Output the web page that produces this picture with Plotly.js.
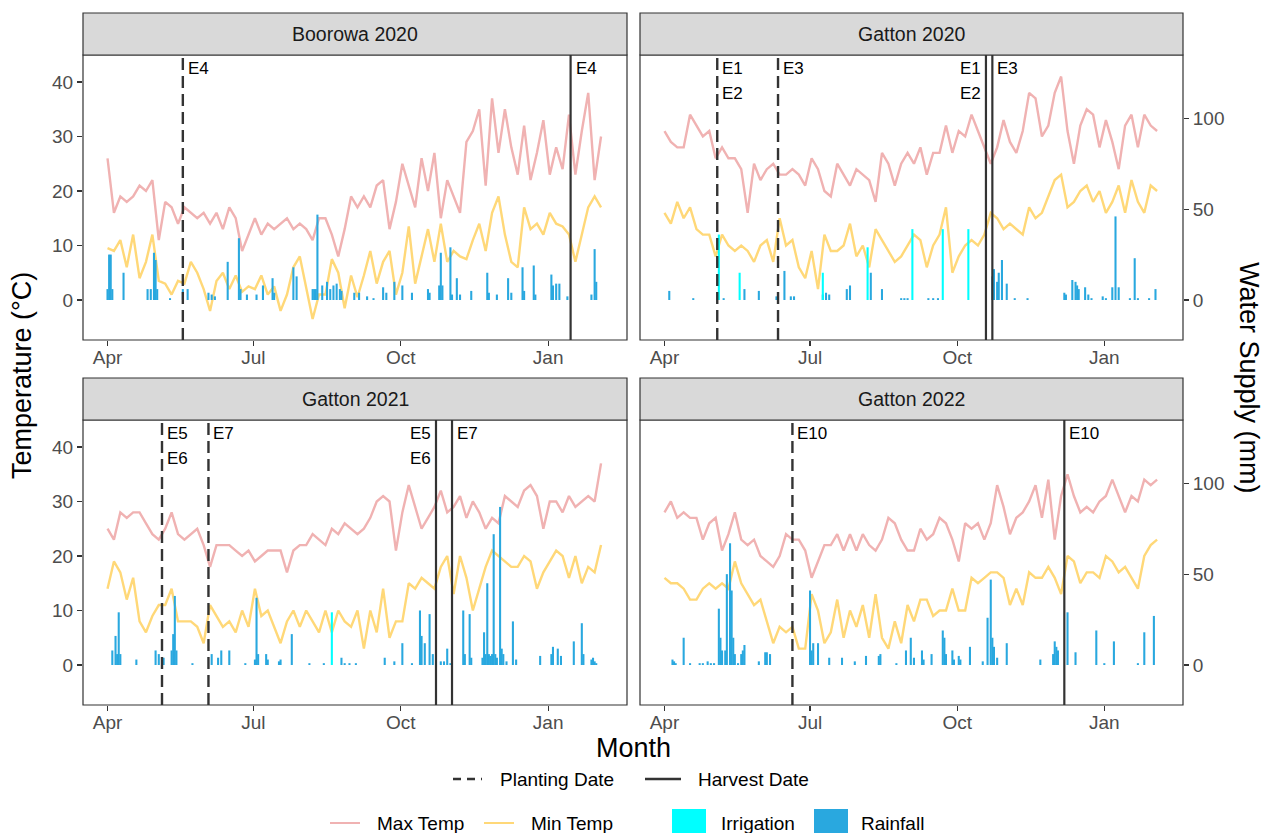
<!DOCTYPE html>
<html><head><meta charset="utf-8">
<script src="https://cdn.plot.ly/plotly-3.0.1.min.js"></script>
<style>html,body{margin:0;padding:0;background:#fff;}#chart{width:1266px;height:833px;}</style>
</head><body><div id="chart"></div>
<script>
// ---------------- DATA ----------------
const sampleStepDays = 4; // temperature values read every 4 days from 1 April
const panelNames = ['Boorowa 2020', 'Gatton 2020', 'Gatton 2021', 'Gatton 2022'];
const panelYears = [2020, 2020, 2021, 2022];
const monthTickLabels = ['Apr', 'Jul', 'Oct', 'Jan'];
const tempTicks = [0, 10, 20, 30, 40];
const waterTicks = [0, 50, 100];

const boorowa2020Max = [26,16,19,18,19,21,20,22,11,18,17,14,17,16,15,16,14,16,13,17,15,9,12,15,12,14,13,14,15,13,14,13,11,15,15,12,8,13,19,17,19,17,21,22,13,18,25,21,17,26,20,27,15,22,19,16,29,31,35,21,37,27,35,28,23,32,22,27,33,23,28,24,34,23,31,38,22,30];
const boorowa2020Min = [9.5,9,11,6,12,4,7,12,3.5,3,1,3.5,3,7,5,2,-2,3.5,5,2,4.5,1.5,2.5,2,4.5,1,2.5,-2,1,6,8,2,-3.5,1,1,7.5,5,-1.5,4.5,0.5,4.5,9,3,7,9,1,5,13.5,3,8,13,7,14,7,9,8,7.5,11,14,9,16,19,12,7,6,17,13,14,12,16,14,13.5,12,7,12,17,19,17];
const boorowa2020RainDays = [0,1,2,3,10,25,27,29,30,31,39,47,50,63,65,67,75,82,83,87,93,97,103,104,116,118,128,129,130,131,134,137,139,141,143,145,146,154,157,162,166,172,174,179,184,190,200,201,207,208,209,214,215,218,220,227,237,238,243,250,252,259,260,266,267,277,278,280,282,287,302,304,305];
const boorowa2020RainMm = [6,25,25,6,15,6,6,26,22,6,1,6,6,4,3,2,21,34,6,3,3,8,12,4,18,13,6,6,6,47,8,10,6,8,9,6,5,4,4,2,1,7,4,10,8,4,6,4,8,26,8,29,3,12,3,5,15,4,3,12,4,18,5,19,3,14,8,9,9,2,3,28,10];
const boorowa2020IrrDays = [];
const boorowa2020IrrMm = [];
const boorowa2020PlantDates = ['2020-05-18'];
const boorowa2020PlantLabels = [['E4']];
const boorowa2020HarvestDates = ['2021-01-15'];
const boorowa2020HarvestLabels = [['E4']];

const gatton2020Max = [31,29,28,28,34,32,30,31,26,28,26,26,24,16,25,22,24,25,23,23,24,23,21,26,24,20,19,25,23,21,24,23,22,18,27,25,21,25,27,25,28,23,27,27,32,27,31,30,34,31,28,25,28,33,29,27,31,38,37,30,32,38,41,31,25,32,35,34,28,33,29,24,32,34,28,34,32,31];
const gatton2020Min = [16,14,18,15,17,13,12,12,8,12,10,9,10,9,7,10,11,7,15,10,11,6,4,9,2,12,9,9,10,14,8,10,6,13,11,9,7,8,10,12,11,6,10,12,17,5,8,10,11,10,12,16,15,13,14,13,12,17,15,16,19,22,23,17,18,20,21,18,20,16,18,21,16,22,18,16,21,20];
const gatton2020RainDays = [3,18,37,50,59,70,75,79,81,99,101,103,114,116,129,136,148,150,152,165,168,171,205,206,208,209,211,214,219,227,250,251,255,257,258,259,263,265,267,274,276,280,282,284,291,294,296,303,307];
const gatton2020RainMm = [5,1,1,6,5,2,16,2,2,3,4,3,6,8,15,6,1,1,1,1,1,1,13,17,10,15,22,9,1,1,4,3,11,10,8,6,7,3,1,2,1,7,46,7,1,23,1,1,6];
const gatton2020IrrDays = [34,47,99,127,155,174,190];
const gatton2020IrrMm = [36,15,15,29,39,39,39];
const gatton2020PlantDates = ['2020-05-04', '2020-06-11'];
const gatton2020PlantLabels = [['E1','E2'], ['E3']];
const gatton2020HarvestDates = ['2020-10-19', '2020-10-23'];
const gatton2020HarvestLabels = [['E1','E2'], ['E3']];

const gatton2021Max = [25,23,28,27,28,28,26,24,23,25,28,24,23,24,25,22,18,22,22,22,21,20,21,19,20,21,21,21,17,21,22,22,24,23,22,25,24,26,25,24,25,27,30,31,30,21,28,33,29,25,27,29,32,28,29,31,27,30,28,25,27,26,31,30,29,32,33,31,25,30,30,28,31,29,30,31,30,37];
const gatton2021Min = [14,19,17,12,16,8,6,9,11,11,14,8,8,8,7,4,11,9,7,8,6,10,7,14,9,10,7,4,8,10,7,10,8,6,10,6,10,8,7,10,3,10,6,14,5,8,8,15,14,16,15,14,18,20,13,20,16,10,14,18,21,20,19,18,18,20,19,14,17,19,21,20,16,20,15,18,17,22];
const gatton2021RainDays = [3,5,6,7,8,18,30,32,35,40,41,42,43,53,65,69,71,76,86,92,93,94,99,100,107,108,115,126,135,146,148,151,155,173,179,184,190,195,196,198,201,203,208,210,212,214,222,223,226,227,234,235,236,237,238,239,240,241,242,243,245,246,247,249,253,255,270,277,278,281,283,291,296,297,302,303,304,305];
const gatton2021RainMm = [8,16,6,29,6,3,8,6,4,8,17,38,8,1,6,4,8,8,1,3,37,6,6,3,2,3,17,1,1,4,1,1,1,4,2,12,1,30,16,12,28,6,2,2,9,1,30,6,28,4,4,18,6,45,6,5,6,72,6,4,87,9,6,2,24,3,5,6,10,9,5,13,23,6,3,4,2,1];
const gatton2021IrrDays = [140];
const gatton2021IrrMm = [29];
const gatton2021PlantDates = ['2021-05-05', '2021-06-03'];
const gatton2021PlantLabels = [['E5','E6'], ['E7']];
const gatton2021HarvestDates = ['2021-10-23', '2021-11-02'];
const gatton2021HarvestLabels = [['E5','E6'], ['E7']];

const gatton2022Max = [28,30,27,28,27,27,23,26,27,21,24,28,23,22,23,20,19,18,20,24,23,23,21,16,19,22,22,24,21,24,21,24,22,21,23,27,26,23,21,21,25,23,24,27,26,23,19,26,25,26,23,26,33,29,24,27,28,30,33,27,34,23,31,35,31,28,29,28,30,31,34,31,28,31,30,34,33,34];
const gatton2022Min = [16,15,15,14,12,12,14,15,14,15,14,19,15,13,11,12,8,4,7,6,7,3,3,13,10,4,6,12,5,10,7,11,5,13,5,3,8,4,11,8,12,12,9,10,10,14,10,10,16,15,16,17,17,16,11,14,11,17,16,16,18,16,13,20,19,15,17,17,16,20,19,17,18,16,14,20,22,23];
const gatton2022RainDays = [5,6,7,12,16,22,24,27,29,31,34,35,36,38,39,41,42,43,44,46,48,49,50,59,63,64,66,91,92,93,96,103,111,119,126,134,135,145,151,154,156,161,162,167,174,175,176,180,181,184,185,191,199,202,204,205,206,208,214,235,243,244,245,246,252,257,270,275,281,296,300,306];
const gatton2022RainMm = [3,2,1,15,1,1,1,2,1,1,31,15,8,8,50,67,41,15,6,1,6,8,11,2,7,7,6,41,8,12,12,4,4,2,5,5,6,1,8,15,4,8,3,6,19,15,6,8,3,5,3,10,2,26,47,15,10,4,12,3,6,13,10,8,29,7,19,1,13,1,18,27];
const gatton2022IrrDays = [];
const gatton2022IrrMm = [];
const gatton2022PlantDates = ['2022-06-20'];
const gatton2022PlantLabels = [['E10']];
const gatton2022HarvestDates = ['2022-12-07'];
const gatton2022HarvestLabels = [['E10']];

// ---------------- BUILD ----------------
const W = 1266, H = 833, DAY = 86400000;
const FONT = 'Liberation Sans, Arial, Helvetica, sans-serif';
const COL = {max: '#F0B2B2', min: '#FFD878', rain: '#29A8DF', irr: '#00FFFF', ink: '#333333'};
const TEMP_RANGE = [-7.34, 44.95];
const WATER_RANGE = [TEMP_RANGE[0] * 3, TEMP_RANGE[1] * 3];
const TICKFONT = {size: 19, color: '#4d4d4d', family: FONT};

const panels = [
  {max: boorowa2020Max, min: boorowa2020Min, rd: boorowa2020RainDays, rv: boorowa2020RainMm, id: boorowa2020IrrDays, iv: boorowa2020IrrMm, pd: boorowa2020PlantDates, pl: boorowa2020PlantLabels, hd: boorowa2020HarvestDates, hl: boorowa2020HarvestLabels},
  {max: gatton2020Max, min: gatton2020Min, rd: gatton2020RainDays, rv: gatton2020RainMm, id: gatton2020IrrDays, iv: gatton2020IrrMm, pd: gatton2020PlantDates, pl: gatton2020PlantLabels, hd: gatton2020HarvestDates, hl: gatton2020HarvestLabels},
  {max: gatton2021Max, min: gatton2021Min, rd: gatton2021RainDays, rv: gatton2021RainMm, id: gatton2021IrrDays, iv: gatton2021IrrMm, pd: gatton2021PlantDates, pl: gatton2021PlantLabels, hd: gatton2021HarvestDates, hl: gatton2021HarvestLabels},
  {max: gatton2022Max, min: gatton2022Min, rd: gatton2022RainDays, rv: gatton2022RainMm, id: gatton2022IrrDays, iv: gatton2022IrrMm, pd: gatton2022PlantDates, pl: gatton2022PlantLabels, hd: gatton2022HarvestDates, hl: gatton2022HarvestLabels}
];
const boxes = [
  {l: 83, r: 627, t: 55, b: 340}, {l: 640, r: 1183, t: 55, b: 340},
  {l: 83, r: 627, t: 420, b: 705}, {l: 640, r: 1183, t: 420, b: 705}
];

function dayToDate(year, d) {
  const ms = Date.UTC(year, 3, 1) + d * DAY;
  return new Date(ms).toISOString().replace('T', ' ').slice(0, 19);
}
const px = v => v / W, py = v => 1 - v / H;

const traces = [];
const layout = {
  width: W, height: H, margin: {l: 0, r: 0, t: 0, b: 0},
  paper_bgcolor: '#fff', plot_bgcolor: 'rgba(0,0,0,0)', showlegend: false,
  barmode: 'overlay', font: {family: FONT, color: '#1a1a1a'},
  shapes: [], annotations: []
};

panels.forEach((p, i) => {
  const n = i + 1, s = n === 1 ? '' : String(n), ws = String(n + 4);
  const yr = panelYears[i], box = boxes[i];
  const leftCol = (i % 2 === 0);
  const xs = p.max.map((_, k) => dayToDate(yr, k * sampleStepDays));

  layout['xaxis' + s] = {
    domain: [px(box.l), px(box.r)], anchor: 'y' + s, type: 'date',
    range: [dayToDate(yr, -15.3), dayToDate(yr, 324.2)],
    tickvals: [yr + '-04-01', yr + '-07-01', yr + '-10-01', (yr + 1) + '-01-01'],
    ticktext: monthTickLabels, ticks: 'outside', ticklen: 5, tickwidth: 1.1, tickcolor: COL.ink,
    tickfont: TICKFONT, ticklabelstandoff: -5,
    showgrid: false, zeroline: false, showline: false, fixedrange: true
  };
  layout['yaxis' + s] = {
    domain: [py(box.b), py(box.t)], anchor: 'x' + s, range: TEMP_RANGE,
    tickvals: tempTicks, ticks: leftCol ? 'outside' : '', showticklabels: leftCol,
    ticklen: 5, tickwidth: 1.1, tickcolor: COL.ink, tickfont: TICKFONT,
    showgrid: false, zeroline: false, showline: false, fixedrange: true
  };
  layout['yaxis' + ws] = {
    overlaying: 'y' + s, anchor: 'x' + s, side: 'right', range: WATER_RANGE,
    visible: !leftCol, tickvals: waterTicks, ticks: 'outside', ticklen: 5, tickwidth: 1.1,
    tickcolor: COL.ink, tickfont: TICKFONT,
    showgrid: false, zeroline: false, showline: false, fixedrange: true
  };

  traces.push({type: 'scatter', mode: 'lines', x: xs, y: p.max, xaxis: 'x' + s, yaxis: 'y' + s,
    line: {color: COL.max, width: 2.4}, hoverinfo: 'skip'});
  traces.push({type: 'scatter', mode: 'lines', x: xs, y: p.min, xaxis: 'x' + s, yaxis: 'y' + s,
    line: {color: COL.min, width: 2.4}, hoverinfo: 'skip'});
  traces.push({type: 'bar', x: p.rd.map(d => dayToDate(yr, d)), y: p.rv, xaxis: 'x' + s, yaxis: 'y' + ws,
    width: DAY * 1.3, marker: {color: COL.rain, line: {width: 0}}, hoverinfo: 'skip'});
  traces.push({type: 'bar', x: p.id.map(d => dayToDate(yr, d)), y: p.iv, xaxis: 'x' + s, yaxis: 'y' + ws,
    width: DAY * 1.3, marker: {color: COL.irr, line: {width: 0}}, hoverinfo: 'skip'});

  // planting (dashed) and harvest (solid) lines with labels
  const labelRows = [42.5, 37.9];
  p.pd.forEach((d, k) => {
    layout.shapes.push({type: 'line', xref: 'x' + s, yref: 'y' + s + ' domain', x0: d, x1: d, y0: 0, y1: 1,
      line: {color: COL.ink, width: 2.4, dash: '12px,6px'}, layer: 'above'});
    p.pl[k].forEach((t, r) => layout.annotations.push({xref: 'x' + s, yref: 'y' + s, x: d, y: labelRows[r],
      text: t, showarrow: false, xanchor: 'left', xshift: 3, font: {size: 17, color: '#000'}}));
  });
  p.hd.forEach((d, k) => {
    layout.shapes.push({type: 'line', xref: 'x' + s, yref: 'y' + s + ' domain', x0: d, x1: d, y0: 0, y1: 1,
      line: {color: COL.ink, width: 2.2}, layer: 'above'});
    const next = p.hd[k + 1];
    const leftSide = next && (new Date(next) - new Date(d)) / DAY < 20;
    p.hl[k].forEach((t, r) => layout.annotations.push({xref: 'x' + s, yref: 'y' + s, x: d, y: labelRows[r],
      text: t, showarrow: false, xanchor: leftSide ? 'right' : 'left', xshift: leftSide ? -3 : 3,
      font: {size: 17, color: '#000'}}));
  });

  // panel border
  layout.shapes.push({type: 'rect', xref: 'paper', yref: 'paper', x0: px(box.l), x1: px(box.r),
    y0: py(box.b), y1: py(box.t), line: {color: COL.ink, width: 1.2}, fillcolor: 'rgba(0,0,0,0)', layer: 'above'});
  // strip
  layout.shapes.push({type: 'rect', xref: 'paper', yref: 'paper', x0: px(box.l), x1: px(box.r),
    y0: py(box.t), y1: py(box.t - 42), line: {color: COL.ink, width: 1.2}, fillcolor: '#D9D9D9', layer: 'above'});
  layout.annotations.push({xref: 'paper', yref: 'paper', x: px((box.l + box.r) / 2), y: py(box.t - 21),
    text: panelNames[i], showarrow: false, xanchor: 'center', yanchor: 'middle', font: {size: 19.5, color: '#1a1a1a'}});
});

// axis titles
layout.annotations.push({xref: 'paper', yref: 'paper', x: px(22), y: py(376), text: 'Temperature (°C)', textangle: -90,
  showarrow: false, xanchor: 'center', yanchor: 'middle', font: {size: 27, color: '#000'}});
layout.annotations.push({xref: 'paper', yref: 'paper', x: px(1249), y: py(378), text: 'Water Supply (mm)', textangle: 90,
  showarrow: false, xanchor: 'center', yanchor: 'middle', font: {size: 27, color: '#000'}});
layout.annotations.push({xref: 'paper', yref: 'paper', x: px(633), y: py(748), text: 'Month',
  showarrow: false, xanchor: 'center', yanchor: 'middle', font: {size: 27, color: '#000'}});

// legend (drawn manually, two rows)
const legLine = (x0, x1, y, color, dash, w) => layout.shapes.push({type: 'line', xref: 'paper', yref: 'paper',
  x0: px(x0), x1: px(x1), y0: py(y), y1: py(y), line: {color: color, width: w, dash: dash}});
const legRect = (x0, x1, y0, y1, color) => layout.shapes.push({type: 'rect', xref: 'paper', yref: 'paper',
  x0: px(x0), x1: px(x1), y0: py(y1), y1: py(y0), line: {width: 0}, fillcolor: color});
const legText = (x, y, t) => layout.annotations.push({xref: 'paper', yref: 'paper', x: px(x), y: py(y), text: t,
  showarrow: false, xanchor: 'left', yanchor: 'middle', font: {size: 19, color: '#000'}});
legLine(453, 482, 779, COL.ink, '8px,6px', 2.6); legText(498, 779, 'Planting Date');
legLine(645, 681, 779, COL.ink, 'solid', 2.6); legText(696, 779, 'Harvest Date');
legLine(330, 360, 823, COL.max, 'solid', 2); legText(375, 823, 'Max Temp');
legLine(484, 514, 823, COL.min, 'solid', 2); legText(529, 823, 'Min Temp');
legRect(672, 706, 809, 845, COL.irr); legText(719, 823, 'Irrigation');
legRect(814, 848, 809, 845, COL.rain); legText(859, 823, 'Rainfall');

Plotly.newPlot('chart', traces, layout, {displayModeBar: false, staticPlot: true});
</script>
</body></html>
